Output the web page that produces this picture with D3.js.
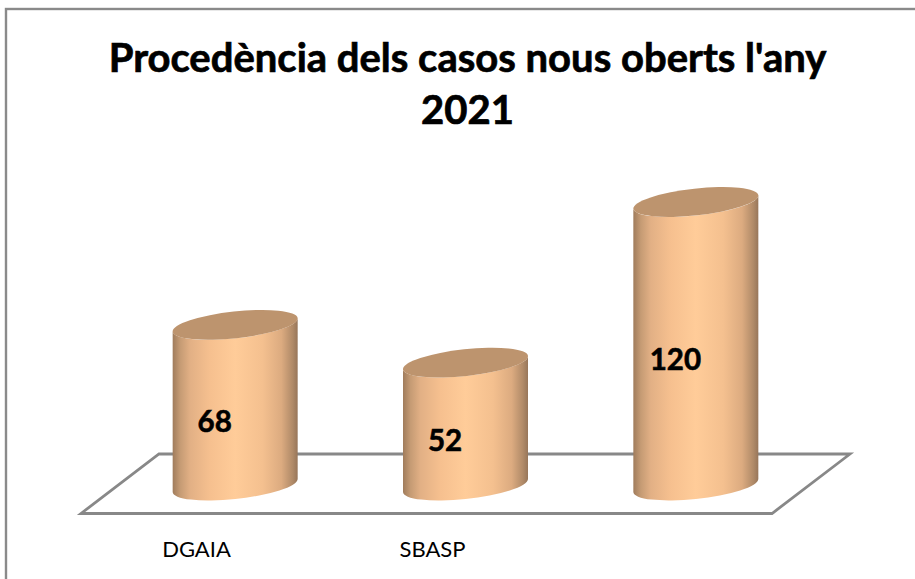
<!DOCTYPE html>
<html><head><meta charset="utf-8">
<script src="https://cdn.jsdelivr.net/npm/d3@7"></script>
<style>html,body{margin:0;padding:0;background:#fff;overflow:hidden}svg{display:block}</style>
</head><body><div id="chart"></div>
<script>
const titleLines = ["Procedència dels casos nous oberts l'any", "2021"];
const categories = ["DGAIA", "SBASP", ""];
const values = [68, 52, 120];

const W = 915, H = 579, fontFamily = "Lato, 'Open Sans', sans-serif";
const svg = d3.select("#chart").append("svg").attr("width", W).attr("height", H);

const x = d3.scaleBand().domain(d3.range(categories.length)).range([120, 811]);
const y = d3.scaleLinear().domain([0, 120]).range([485.5, 202]);
const rx = 62.85, ry = 13.4, rot = -6.2, halfW = 62.5, skew = 6.5;

const grad = svg.append("defs").append("linearGradient").attr("id", "cyl");
[[0, "#a07c5c"], [0.06, "#c59b74"], [0.14, "#e2b085"], [0.3, "#f6c08f"], [0.5, "#ffcc99"],
 [0.72, "#f4c08f"], [0.87, "#dcab80"], [0.96, "#b08a68"], [1, "#97765a"]]
  .forEach(([o, c]) => grad.append("stop").attr("offset", o).attr("stop-color", c));

svg.append("rect").attr("x", 6).attr("y", 9).attr("width", W + 20).attr("height", H + 20)
  .attr("fill", "#fff").attr("stroke", "#8a8a8a").attr("stroke-width", 2.4);

const floorPath = d3.path();
floorPath.moveTo(81, 513.5); floorPath.lineTo(772, 513.5);
floorPath.lineTo(850, 454); floorPath.lineTo(159, 454); floorPath.closePath();
svg.append("path").attr("d", floorPath.toString()).attr("fill", "#fff")
  .attr("stroke", "#888888").attr("stroke-width", 2.8).attr("stroke-linejoin", "miter");

const bars = svg.selectAll("g.bar").data(values).join("g").attr("class", "bar");
const cx = (d, i) => x(i) + x.bandwidth() / 2;

bars.append("path").attr("fill", "url(#cyl)").attr("d", (d, i) => {
  const c = cx(d, i), t = y(d), b = y(0);
  return `M${c - halfW},${t + skew} L${c - halfW},${b + skew} ` +
         `A${rx},${ry} ${rot} 0 0 ${c + halfW},${b - skew} L${c + halfW},${t - skew} ` +
         `A${rx},${ry} ${rot} 0 1 ${c - halfW},${t + skew} Z`;
});
bars.append("ellipse").attr("fill", "#bd946e")
  .attr("rx", rx).attr("ry", ry)
  .attr("transform", (d, i) => `translate(${cx(d, i)},${y(d)}) rotate(${rot})`);

bars.append("text").text(d => d)
  .attr("x", (d, i) => cx(d, i) - 20.5)
  .attr("y", d => (y(d) + y(0)) / 2 + 16)
  .attr("dy", "0.36em").attr("text-anchor", "middle")
  .attr("font-family", fontFamily).attr("font-weight", 700)
  .attr("font-size", 29.5).attr("fill", "#000")
  .attr("stroke", "#000").attr("stroke-width", 0.6);

const axisScale = d3.scaleBand().domain(categories).range([78.5, 786.5]);
const axis = d3.axisBottom(axisScale).tickSize(0).tickPadding(0);
const gx = svg.append("g").attr("transform", "translate(0,541)").call(axis);
gx.select(".domain").remove();
gx.selectAll("text").attr("font-family", fontFamily).attr("font-size", 22).attr("font-weight", 400).attr("fill", "#000");

const title = svg.append("text").attr("text-anchor", "middle")
  .attr("font-family", fontFamily).attr("font-weight", 700).attr("font-size", 40).attr("fill", "#000")
  .attr("stroke", "#000").attr("stroke-width", 0.7);
title.selectAll("tspan").data(titleLines).join("tspan")
  .attr("x", 467.5).attr("y", (d, i) => 72 + i * 52).text(d => d);
</script></body></html>
